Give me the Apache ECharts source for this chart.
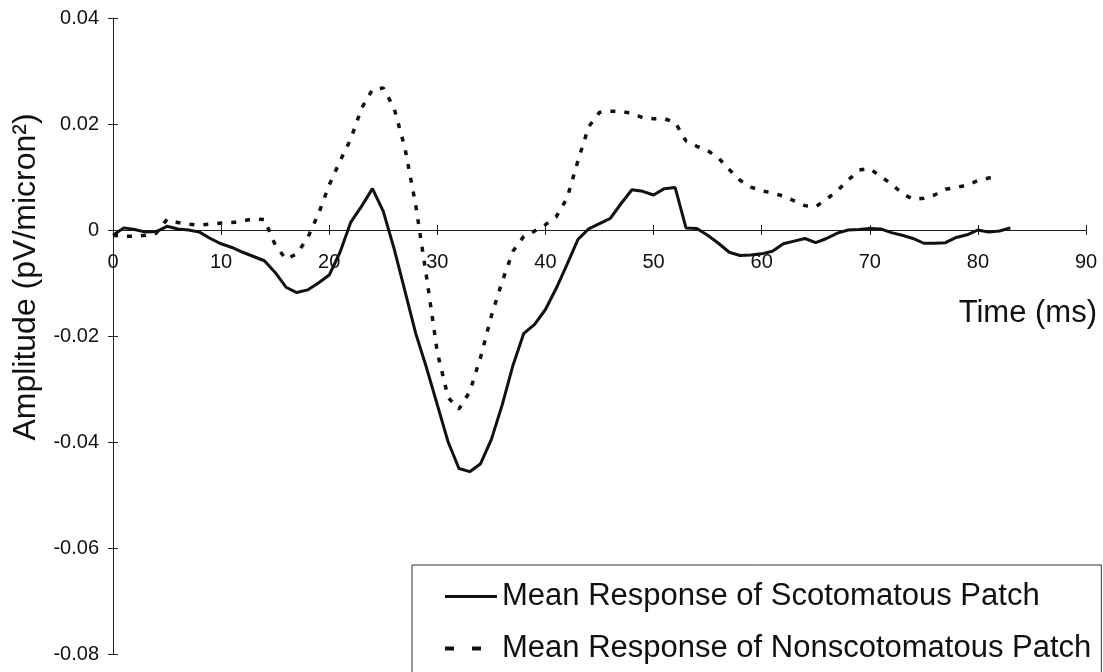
<!DOCTYPE html>
<html>
<head>
<meta charset="utf-8">
<script src="https://cdn.jsdelivr.net/npm/echarts@6/dist/echarts.min.js"></script>
<style>
html,body{margin:0;padding:0;background:#fff;}
#chart{width:1103px;height:672px;}
</style>
</head>
<body>
<div id="chart"></div>
<script>
var timeScot = [0,1,2,3,4,5,6,7,8,9,10,11,12,13,14,15,16,17,18,19,20,21,22,23,24,25,26,27,28,29,30,31,32,33,34,35,36,37,38,39,40,41,42,43,44,45,46,47,48,49,50,51,52,53,54,55,56,57,58,59,60,61,62,63,64,65,66,67,68,69,70,71,72,73,74,75,76,77,78,79,80,81,82,83];
var scotomatous = [-0.0010,0.0004,0.0001,-0.0004,-0.0003,0.0007,0.0002,0.0000,-0.0004,-0.0016,
  -0.0026,-0.0033,-0.0042,-0.0050,-0.0058,-0.0080,-0.0108,-0.0118,-0.0113,-0.0100,
  -0.0085,-0.0042,0.0015,0.0045,0.0078,0.0035,-0.0035,-0.0115,-0.0195,-0.0260,
  -0.0330,-0.0400,-0.0450,-0.0456,-0.0441,-0.0395,-0.0330,-0.0255,-0.0195,-0.0178,
  -0.0150,-0.0110,-0.0065,-0.0018,0.0002,0.0012,0.0022,0.0050,0.0076,0.0073,
  0.0066,0.0078,0.0080,0.0004,0.0003,-0.0010,-0.0025,-0.0042,-0.0048,-0.0047,
  -0.0045,-0.0040,-0.0026,-0.0021,-0.0016,-0.0024,-0.0016,-0.0006,0.0000,0.0001,
  0.0003,0.0002,-0.0005,-0.0010,-0.0016,-0.0025,-0.0025,-0.0024,-0.0014,-0.0009,
  0.0000,-0.0004,-0.0002,0.0004];
var timeNonscot = [0,1,2,3,4,5,6,7,8,9,10,11,12,13,14,15,16,17,18,19,20,21,22,23,24,25,26,27,28,29,30,31,32,33,34,35,36,37,38,39,40,41,42,43,44,45,46,47,48,49,50,51,52,53,54,55,56,57,58,59,60,61,62,63,64,65,66,67,68,69,70,71,72,73,74,75,76,77,78,79,80,81,82];
var nonscotomatous = [-0.0010,-0.0012,-0.0012,-0.0010,-0.0006,0.0020,0.0014,0.0011,0.0009,0.0011,
  0.0013,0.0014,0.0017,0.0021,0.0020,-0.0028,-0.0055,-0.0045,-0.0015,0.0030,
  0.0085,0.0130,0.0172,0.0230,0.0265,0.0268,0.0230,0.0155,0.0047,-0.0088,
  -0.0231,-0.0316,-0.0338,-0.0305,-0.0240,-0.0162,-0.0097,-0.0040,-0.0012,-0.0002,
  0.0010,0.0025,0.0060,0.0130,0.0195,0.0222,0.0224,0.0224,0.0220,0.0212,
  0.0210,0.0210,0.0203,0.0168,0.0158,0.0150,0.0136,0.0114,0.0094,0.0081,
  0.0074,0.0070,0.0064,0.0055,0.0046,0.0044,0.0058,0.0074,0.0094,0.0113,
  0.0116,0.0101,0.0087,0.0069,0.0058,0.0060,0.0066,0.0077,0.0080,0.0085,
  0.0093,0.0098,0.0100];
var seriesNames = ['Mean Response of Scotomatous Patch','Mean Response of Nonscotomatous Patch'];
var xTicks = {min:0, max:90, interval:10};
var yTicks = {min:-0.08, max:0.04, interval:0.02};
var xTitle = 'Time (ms)';
var yTitle = 'Amplitude (pV/micron\u00B2)';

function pairs(t, v){ return v.map(function(val,i){ return [t[i], val]; }); }

var FONT = 'Liberation Sans, Arial, sans-serif';
var INK = '#111';
var chart = echarts.init(document.getElementById('chart'));
var axisLineStyle = {color:'#222', width:1};
// grid: top 18, bottom 18 -> plot height 636; y=0 lies 424px above the bottom edge
var option = {
  animation:false,
  backgroundColor:'#fff',
  grid:{left:113, right:17, top:18, bottom:18, containLabel:false, outerBoundsMode:'none'},
  xAxis:[
    {type:'value', min:xTicks.min, max:xTicks.max, interval:xTicks.interval, position:'bottom', offset:-424,
     axisLine:{show:true, onZero:false, lineStyle:axisLineStyle},
     axisTick:{show:true, length:5, lineStyle:axisLineStyle},
     axisLabel:{show:true, margin:22, fontSize:20, color:INK, fontFamily:FONT, hideOverlap:false},
     splitLine:{show:false}},
    {type:'value', min:xTicks.min, max:xTicks.max, interval:xTicks.interval, position:'bottom', offset:-424,
     axisLine:{show:false, onZero:false},
     axisTick:{show:true, inside:true, length:5, lineStyle:axisLineStyle},
     axisLabel:{show:false}, splitLine:{show:false}}
  ],
  yAxis:[
    {type:'value', min:yTicks.min, max:yTicks.max, interval:yTicks.interval, position:'left',
     axisLine:{show:true, onZero:false, lineStyle:axisLineStyle},
     axisTick:{show:true, length:5, lineStyle:axisLineStyle},
     axisLabel:{show:true, margin:14, fontSize:20, color:INK, fontFamily:FONT,
       formatter:function(v){ return String(parseFloat(v.toFixed(2))); }},
     splitLine:{show:false}},
    {type:'value', min:yTicks.min, max:yTicks.max, interval:yTicks.interval, position:'left',
     axisLine:{show:false, onZero:false},
     axisTick:{show:true, inside:true, length:5, lineStyle:axisLineStyle},
     axisLabel:{show:false}, splitLine:{show:false}}
  ],
  legend:{
    orient:'vertical', left:412, top:565, height:140,
    padding:[16, 10, 30, 31],
    itemWidth:52, itemHeight:14, itemGap:21,
    borderColor:'#333', borderWidth:1, backgroundColor:'#fff',
    itemStyle:{opacity:0},
    lineStyle:{width:3},
    textStyle:{fontSize:31, color:INK, fontFamily:FONT},
    data:[
      {name:seriesNames[0]},
      {name:seriesNames[1], lineStyle:{width:4, type:[9,18]}}
    ]
  },
  graphic:[
    {type:'text', x:1097, y:313, z:10,
     style:{text:xTitle, fontSize:31, fill:INK, fontFamily:FONT, align:'right', verticalAlign:'middle'}},
    {type:'text', x:26, y:277, rotation:Math.PI/2, z:10,
     style:{text:yTitle, fontSize:32, fill:INK, fontFamily:FONT, align:'center', verticalAlign:'middle'}}
  ],
  series:[
    {name:seriesNames[0], type:'line', xAxisIndex:0, yAxisIndex:0, symbol:'none', smooth:false,
     lineStyle:{color:'#111', width:3}, itemStyle:{color:'#111'},
     data:pairs(timeScot, scotomatous)},
    {name:seriesNames[1], type:'line', xAxisIndex:0, yAxisIndex:0, symbol:'none', smooth:false,
     lineStyle:{color:'#111', width:3.5, type:[5,9]}, itemStyle:{color:'#111'},
     data:pairs(timeNonscot, nonscotomatous)}
  ]
};
chart.setOption(option);
</script>
</body>
</html>
